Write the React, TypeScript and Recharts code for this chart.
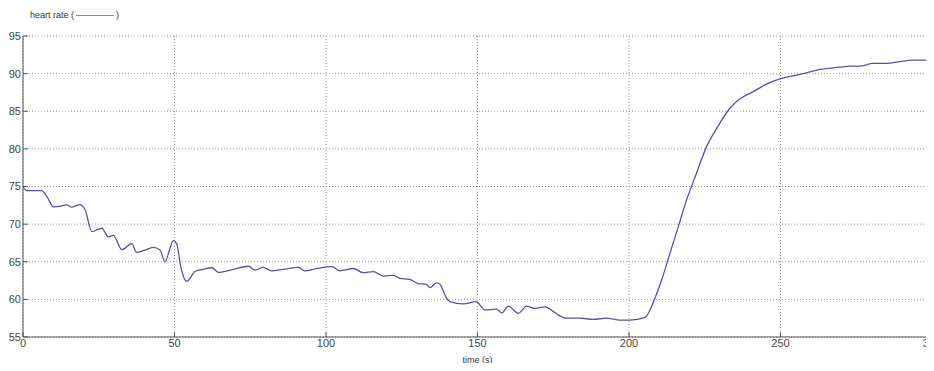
import { LineChart, Line, XAxis, YAxis, CartesianGrid } from 'recharts';

// time in seconds
const time = [
  0, 1.2, 6.2, 8, 10, 12, 14.4, 16, 18.8, 20.5,
  22.7, 26, 28.2, 29.8, 32.6, 35.9, 37.5, 40, 43, 45.2,
  46.9, 48.3, 49.6, 50.8, 52, 54, 56.8, 59.5, 62.3, 64.5,
  69.4, 74.4, 76.6, 79.3, 82, 85.9, 90.9, 93, 96.9, 101.9,
  104.6, 109, 112.3, 115.6, 118.9, 122.2, 124.4, 127.7, 130.5, 133.2,
  134.3, 136.5, 137.6, 139.8, 140.9, 145.3, 149.5, 152.5, 156.3, 158,
  160.2, 163.5, 166.2, 169, 172.3, 175, 176.7, 179.4, 183.8, 188.2,
  192.6, 197, 200.3, 205.3, 208, 210.8, 213.5, 216.3, 219, 222.3,
  225.6, 228.9, 233.3, 235.5, 241, 245.4, 249.8, 254, 258.6, 263,
  269.6, 272.9, 276.2, 280.6, 285, 289.4, 293.8, 298.2, 300,
];

// heart rate (bpm)
const heartRate = [
  75, 74.45, 74.45, 73.6, 72.3, 72.35, 72.55, 72.25, 72.6, 71.9,
  69.0, 69.45, 68.3, 68.5, 66.6, 67.4, 66.25, 66.5, 66.9, 66.55,
  65.0, 66.5, 67.8, 67.3, 64.5, 62.4, 63.7, 64.0, 64.2, 63.6,
  64.0, 64.4, 63.9, 64.25, 63.8, 64.0, 64.25, 63.8, 64.1, 64.35,
  63.8, 64.1, 63.55, 63.7, 63.1, 63.2, 62.8, 62.65, 62.1, 62.0,
  61.55, 62.2, 62.0, 60.15, 59.7, 59.4, 59.7, 58.6, 58.7, 58.2,
  59.1, 58.15, 59.1, 58.8, 59.0, 58.4, 57.9, 57.5, 57.5, 57.35,
  57.5, 57.25, 57.25, 57.6, 59.6, 62.6, 66.1, 69.7, 73.2, 76.8,
  80.3, 82.7, 85.4, 86.3, 87.6, 88.6, 89.3, 89.7, 90.1, 90.55,
  90.85, 91.0, 91.0, 91.35, 91.35, 91.6, 91.8, 91.8, 91.9,
];

const xTicks = [0, 50, 100, 150, 200, 250, 300];
const yTicks = [55, 60, 65, 70, 75, 80, 85, 90, 95];

const data = time.map((t, i) => ({ t, hr: heartRate[i] }));

const font = 'Liberation Sans, Arial, sans-serif';
const axisColor = '#555';
const tickFont = { fill: '#444', fontSize: 11, fontFamily: font };

export default function App() {
  return (
    <div style={{ position: 'relative', width: 934, height: 371, margin: -8, background: '#fff' }}>
      <div
        style={{
          position: 'absolute',
          left: 30,
          top: 10,
          fontSize: 9,
          color: '#333',
          fontFamily: font,
          display: 'flex',
          alignItems: 'center',
          whiteSpace: 'nowrap',
        }}
      >
        heart rate (
        <span style={{ display: 'inline-block', width: 38, borderTop: '1px solid #888', margin: '0 2px' }} />
        )
      </div>
      <LineChart width={934} height={371} data={data} margin={{ top: 36, right: 2, bottom: 0, left: 0 }}>
        <CartesianGrid stroke="#999" strokeDasharray="1 2" />
        <XAxis
          dataKey="t"
          type="number"
          domain={[0, 300]}
          ticks={xTicks}
          height={34}
          stroke={axisColor}
          tickSize={-5}
          tickMargin={7}
          tick={tickFont}
          interval={0}
          label={{ value: 'time (s)', position: 'insideBottom', offset: 8, fontSize: 9, fill: '#333', fontFamily: font }}
        />
        <XAxis
          xAxisId="top"
          orientation="top"
          dataKey="t"
          type="number"
          domain={[0, 300]}
          ticks={xTicks}
          height={0}
          stroke={axisColor}
          tickSize={-5}
          tick={false}
          interval={0}
        />
        <YAxis
          type="number"
          domain={[55, 95]}
          ticks={yTicks}
          width={23}
          stroke={axisColor}
          tickSize={-5}
          tickMargin={7}
          tick={tickFont}
          interval={0}
        />
        <YAxis
          yAxisId="right"
          orientation="right"
          type="number"
          domain={[55, 95]}
          ticks={yTicks}
          width={0}
          stroke={axisColor}
          tickSize={-5}
          tick={false}
          interval={0}
        />
        <Line
          type="monotone"
          dataKey="hr"
          stroke="#5454a6"
          strokeWidth={1.3}
          dot={false}
          isAnimationActive={false}
        />
      </LineChart>
    </div>
  );
}
